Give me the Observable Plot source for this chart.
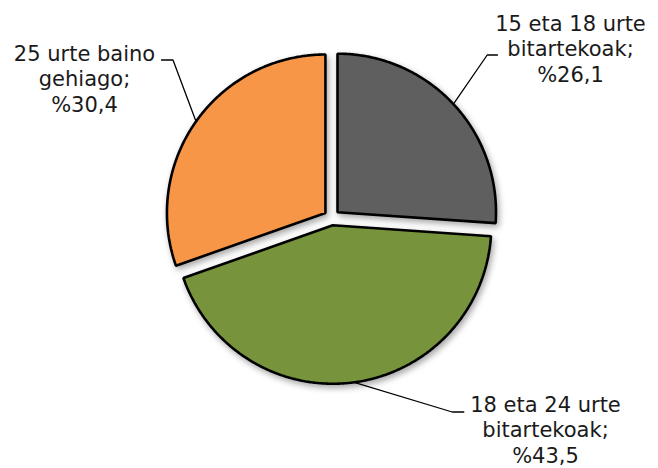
<!DOCTYPE html>
<html><head><meta charset="utf-8">
<script src="https://cdn.jsdelivr.net/npm/d3@7"></script>
<script src="https://cdn.jsdelivr.net/npm/@observablehq/plot@0.6"></script>
<style>html,body{margin:0;padding:0;background:#fff}</style>
</head><body><div id="chart"></div>
<script>
// ---- data ----
const categories = ["15 eta 18 urte bitartekoak", "18 eta 24 urte bitartekoak", "25 urte baino gehiago"];
const values = [26.1, 43.5, 30.4];
const labelLines = [
  ["15 eta 18 urte", "bitartekoak;", "%26,1"],
  ["18 eta 24 urte", "bitartekoak;", "%43,5"],
  ["25 urte baino", "gehiago;", "%30,4"]
];
const colors = ["#5f5f5f", "#77933c", "#f79646"];

// ---- layout ----
const W = 658, H = 468, CX = 331.3, CY = 217, R = 158.5, EXPLODE = 7.8;
const FS = 21, LH = 26;
// label placement in page pixels: text centre x, first baseline y, elbow and end of leader
const labelLayout = [
  {tx: 570, by: 30,  elbow: [486.7, 54.5], end: [497, 54.5]},
  {tx: 545, by: 411, elbow: [451.7, 411.5], end: [463.3, 411.5]},
  {tx: 84,  by: 60,  elbow: [172.5, 59.5], end: [161, 59.5]}
];
const px = (x, y) => ({x: x - CX, y: CY - y});

const arcs = d3.pie().sort(null).value(d => d).startAngle(0).endAngle(2 * Math.PI)(values);

const slicePts = [];
const leaderPts = [];
const textRows = [];
arcs.forEach((a, i) => {
  const mid = (a.startAngle + a.endAngle) / 2;
  const ox = EXPLODE * Math.sin(mid), oy = EXPLODE * Math.cos(mid);
  slicePts.push({x: ox, y: oy, z: i, c: colors[i]});
  const steps = Math.max(2, Math.ceil((a.endAngle - a.startAngle) / (Math.PI / 360)));
  for (let k = 0; k <= steps; k++) {
    const t = a.startAngle + (a.endAngle - a.startAngle) * k / steps;
    slicePts.push({x: ox + R * Math.sin(t), y: oy + R * Math.cos(t), z: i, c: colors[i]});
  }
  const L = labelLayout[i];
  leaderPts.push({x: ox + R * Math.sin(mid), y: oy + R * Math.cos(mid), z: i});
  leaderPts.push({...px(...L.elbow), z: i});
  leaderPts.push({...px(...L.end), z: i});
  const top = L.by - 0.71 * LH;
  textRows.push({...px(L.tx, top), text: labelLines[i].join("\n")});
});

const chart = Plot.plot({
  width: W, height: H, margin: 0,
  style: {fontFamily: "'DejaVu Sans', Verdana, sans-serif", background: "#fff", color: "#1a1a1a"},
  x: {domain: [-CX, W - CX], range: [0, W], axis: null},
  y: {domain: [-(H - CY), CY], range: [H, 0], axis: null},
  marks: [
    Plot.line(slicePts, {x: "x", y: "y", z: "z", fill: "c", stroke: "#000", strokeWidth: 2.6,
      curve: "linear-closed", strokeLinejoin: "miter",
      imageFilter: "drop-shadow(2px 3px 3px rgba(0,0,0,0.35))"}),
    Plot.line(leaderPts, {x: "x", y: "y", z: "z", stroke: "#000", strokeWidth: 1.3}),
    Plot.text(textRows, {x: "x", y: "y", text: "text", fontSize: FS, lineHeight: LH / FS,
      lineAnchor: "top", textAnchor: "middle", fill: "#1a1a1a"})
  ]
});
document.getElementById("chart").appendChild(chart);
</script>
</body></html>
